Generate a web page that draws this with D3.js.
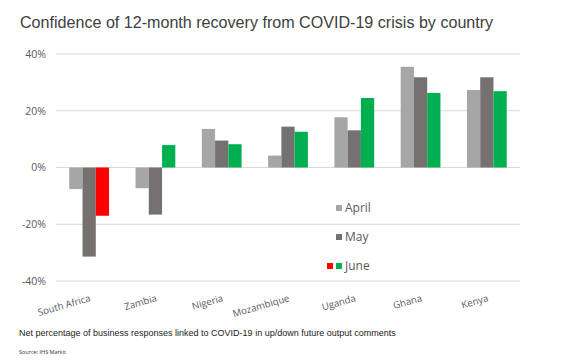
<!DOCTYPE html>
<html><head><meta charset="utf-8">
<script src="https://cdn.jsdelivr.net/npm/d3@7"></script>
<style>body{margin:0;background:#fff}svg{display:block}</style>
</head><body>
<script>
const categories = ["South Africa","Zambia","Nigeria","Mozambique","Uganda","Ghana","Kenya"];
const seriesNames = ["April","May","June"];
const april = [-7.6,-7.3,13.6,4.2,17.7,35.5,27.3];
const may = [-31.4,-16.6,9.5,14.4,13.1,31.8,31.8];
const june = [-17.0,7.9,8.2,12.6,24.5,26.3,26.9];
const yTicks = [-40,-20,0,20,40];
const title = "Confidence of 12-month recovery from COVID-19 crisis by country";
const note = "Net percentage of business responses linked to COVID-19 in up/down future output comments";
const source = "Source: IHS Markit";

const W=562,H=363;
const svg=d3.select("body").append("svg").attr("width",W).attr("height",H);
const colors={April:"#a6a6a6",May:"#767171",June:"#00b050"};
const redJune="#ff0000";

const x0=d3.scaleBand().domain(categories).range([56,520]).paddingInner(0.4).paddingOuter(0.2);
const x1=d3.scaleBand().domain(seriesNames).range([0,x0.bandwidth()]);
const y=d3.scaleLinear().domain([-40,40]).range([281,54]);

svg.append("text").attr("x",20).attr("y",28).text(title)
  .attr("font-family","Liberation Sans, Arial, sans-serif").attr("font-size",16.1).attr("fill","#404040");

// grid
svg.append("g").selectAll("line").data(yTicks).join("line")
  .attr("x1",56).attr("x2",520).attr("y1",d=>y(d)).attr("y2",d=>y(d))
  .attr("stroke","#d9d9d9").attr("stroke-width",1);

// y axis labels
const yAxis=d3.axisLeft(y).tickValues(yTicks).tickFormat(d=>d+"%").tickSize(0).tickPadding(0);
const ya=svg.append("g").attr("transform","translate(46,0)").call(yAxis);
ya.select(".domain").remove();
ya.selectAll("text").attr("font-family","Open Sans, sans-serif").attr("font-size",10.5).attr("fill","#595959");

// bars
const data=[];
categories.forEach((c,i)=>{
  data.push({c,s:"April",v:april[i]});
  data.push({c,s:"May",v:may[i]});
  data.push({c,s:"June",v:june[i]});
});
svg.append("g").selectAll("rect").data(data).join("rect")
  .attr("x",d=>x0(d.c)+x1(d.s))
  .attr("width",x1.bandwidth())
  .attr("y",d=>y(Math.max(0,d.v)))
  .attr("height",d=>Math.abs(y(d.v)-y(0)))
  .attr("fill",d=>d.s==="June"&&d.v<0?redJune:colors[d.s]);

// x labels
const xa=svg.append("g");
xa.selectAll("text").data(categories).join("text")
  .attr("transform",d=>`translate(${x0(d)+x0.bandwidth()/2+2},${301}) rotate(-16)`)
  .attr("text-anchor","end")
  .attr("font-family","Open Sans, sans-serif").attr("font-size",9.6).attr("fill","#595959")
  .text(d=>d);

// legend
const leg=svg.append("g");
const legY=[208,237,266];
seriesNames.forEach((s,i)=>{
  leg.append("rect").attr("x",336).attr("y",legY[i]-3).attr("width",6).attr("height",6).attr("fill",colors[s]);
  if(s==="June") leg.append("rect").attr("x",327).attr("y",legY[i]-3).attr("width",6).attr("height",6).attr("fill",redJune);
  leg.append("text").attr("x",345).attr("y",legY[i]).attr("dy","0.35em").text(s)
    .attr("font-family","Open Sans, sans-serif").attr("font-size",12).attr("fill","#595959");
});

svg.append("text").attr("x",19).attr("y",336).text(note)
  .attr("font-family","Liberation Sans, Arial, sans-serif").attr("font-size",9).attr("fill","#222");
svg.append("text").attr("x",19).attr("y",354).text(source)
  .attr("font-family","Open Sans, sans-serif").attr("font-size",5.5).attr("fill","#333");
</script>
</body></html>
